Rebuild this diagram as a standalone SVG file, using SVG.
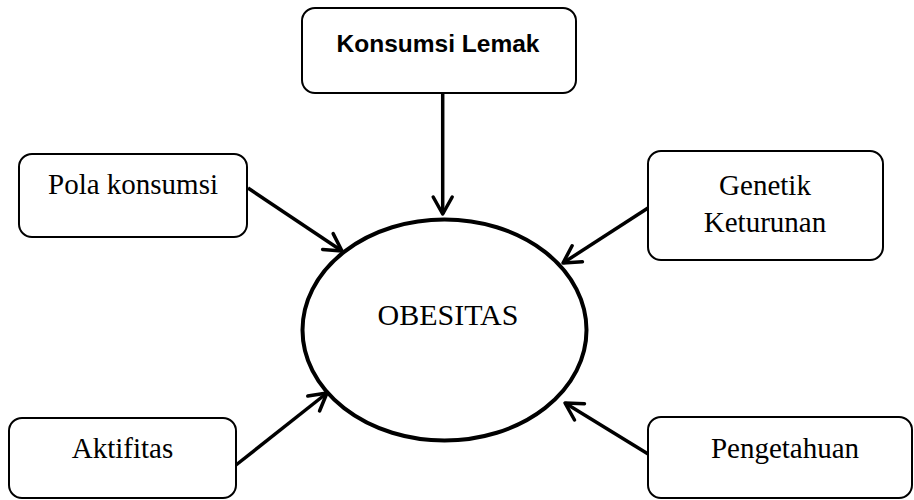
<svg xmlns="http://www.w3.org/2000/svg" width="914" height="500" viewBox="0 0 914 500">
<style>
.box{fill:#fff;stroke:#000;stroke-width:2}
.t{font-family:"Liberation Serif","Times New Roman",serif;font-size:29px;fill:#000;text-anchor:middle}
.b{font-family:"Liberation Sans",Arial,sans-serif;font-size:24.5px;font-weight:bold;fill:#000;text-anchor:middle}
.c{fill:none;stroke:#000;stroke-width:3.5;marker-end:url(#ah)}
</style>
<defs>
<marker id="ah" markerUnits="userSpaceOnUse" markerWidth="40" markerHeight="40" viewBox="-20 -20 40 40" refX="0" refY="0" orient="auto" overflow="visible">
<path d="M-17,-9.5 L0,0 L-17,9.5" fill="none" stroke="#000" stroke-width="3.5" stroke-linecap="round" stroke-linejoin="round"/>
</marker>
</defs>
<rect width="914" height="500" fill="#fff"/>
<g id="connectors">
<line class="c" x1="442.7" y1="93" x2="442.7" y2="214"/>
<line class="c" x1="248" y1="188" x2="342" y2="251"/>
<line class="c" x1="648" y1="208" x2="563" y2="263"/>
<line class="c" x1="236" y1="465" x2="327" y2="393"/>
<line class="c" x1="653" y1="457" x2="565" y2="403"/>
</g>
<g id="obesitas">
<ellipse cx="444.5" cy="330" rx="142" ry="110.5" fill="#fff" stroke="#000" stroke-width="4"/>
<text class="t" x="448" y="325" style="font-size:30px">OBESITAS</text>
</g>
<g id="konsumsi-lemak">
<rect class="box" x="302" y="8" width="274" height="85" rx="13"/>
<text class="b" x="438" y="52">Konsumsi Lemak</text>
</g>
<g id="pola-konsumsi">
<rect class="box" x="19" y="154" width="228" height="83" rx="13"/>
<text class="t" x="133" y="194">Pola konsumsi</text>
</g>
<g id="genetik">
<rect class="box" x="648" y="151" width="235" height="109" rx="13"/>
<text class="t" x="765" y="195">Genetik</text>
<text class="t" x="765" y="232">Keturunan</text>
</g>
<g id="aktifitas">
<rect class="box" x="9" y="418" width="227" height="80" rx="13"/>
<text class="t" x="122.5" y="458">Aktifitas</text>
</g>
<g id="pengetahuan">
<rect class="box" x="648" y="417" width="264" height="81" rx="13"/>
<text class="t" x="785" y="458">Pengetahuan</text>
</g>
</svg>
